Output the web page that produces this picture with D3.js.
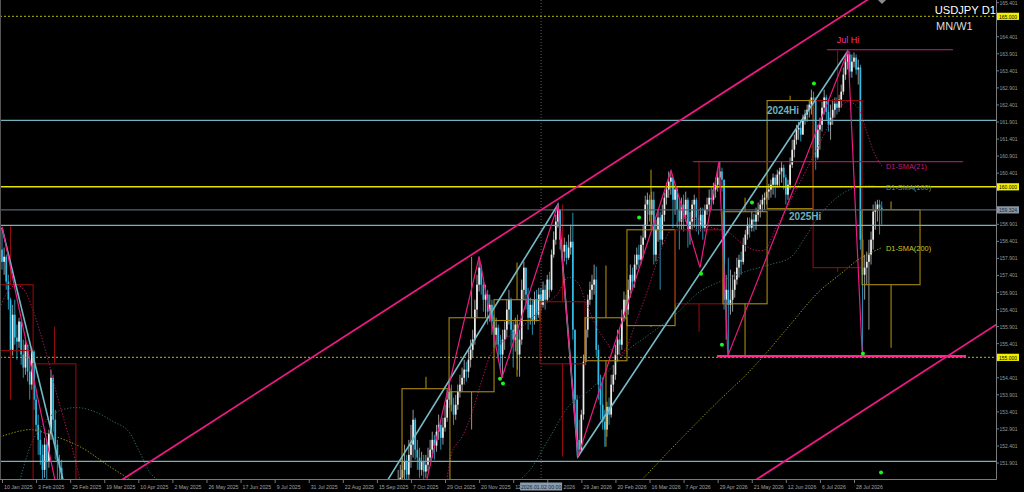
<!DOCTYPE html>
<html><head><meta charset="utf-8"><title>USDJPY D1</title>
<script src="https://cdn.jsdelivr.net/npm/d3@7/dist/d3.min.js"></script>
<style>html,body{margin:0;padding:0;background:#000;overflow:hidden}svg{display:block}</style>
</head><body>
<svg id="chart" width="1024" height="492"></svg>
<script>
// ================= DATA =================
const dateTickIndex = [0,16,32,48,64,80,96,112,128,144,160,176,192,208,224,240,256,272,288,304,320,336,352,368,384,400];
const dateTickLabels = ["10 Jan 2025","3 Feb 2025","25 Feb 2025","19 Mar 2025","10 Apr 2025","2 May 2025","26 May 2025","17 Jun 2025","9 Jul 2025","31 Jul 2025","22 Aug 2025","15 Sep 2025","7 Oct 2025","29 Oct 2025","20 Nov 2025","12 Dec 2025","6 Jan 2026","29 Jan 2026","20 Feb 2026","16 Mar 2026","7 Apr 2026","29 Apr 2026","21 May 2026","12 Jun 2026","6 Jul 2026","28 Jul 2026"];
const priceTickValues = [151.901,152.401,152.901,153.401,153.901,154.401,154.901,155.401,155.901,156.401,156.901,157.401,157.901,158.401,158.901,159.401,159.901,160.401,160.901,161.401,161.901,162.401,162.901,163.401,163.901,164.401,164.901,165.401];
const markedPrices = [165.000,160.000,159.324,155.000];
const markedPriceLabels = ["165.000","160.000","159.324","155.000"];

// daily candles, segment 1 (Jan-Feb 2025)
const seg1StartIndex = 0;
const seg1FirstOpen = 158.16;
const seg1Close = [157.80,157.95,157.22,156.69,155.22,156.25,155.58,155.46,156.05,155.08,
 154.70,155.37,154.58,154.20,155.17,153.76,153.02,152.58,152.14,151.70,
 152.44,151.94,152.76,154.40,153.17,152.44,151.94,151.76,151.12,150.68,150.24];
const seg1High = [158.80,158.22,158.01,157.42,156.75,156.54,156.69,155.96,156.16,156.05,
 155.52,155.58,155.37,154.93,155.28,155.22,154.05,153.32,152.88,152.44,
 152.64,152.58,152.88,154.64,154.49,153.46,152.58,152.14,152.00,151.41,150.97];
const seg1Low = [157.57,157.42,156.98,156.40,155.05,155.05,155.37,154.93,155.28,154.78,
 154.40,154.49,154.29,153.76,154.05,153.46,152.82,152.14,151.85,151.41,
 151.47,151.26,151.76,152.58,152.82,152.00,151.41,151.26,150.82,150.38,149.95];

// daily candles, segment 2 (Oct 2025 - Jul 2026)
const seg2StartIndex = 186;
const seg2FirstOpen = 151.12;
const seg2Close = [
 151.26,151.47,151.70,151.94,151.56,152.14,152.44,153.17,152.29,152.06,
 151.70,151.94,151.65,151.85,152.06,152.29,152.58,152.41,152.82,153.02,
 152.64,152.94,153.23,153.76,153.99,153.61,153.32,153.61,153.99,154.20,
 154.40,154.64,154.58,154.93,155.22,155.52,156.40,157.13,157.63,157.13,
 156.69,156.84,156.34,156.54,156.05,155.66,155.87,155.37,155.08,155.52,
 155.81,156.40,156.69,155.81,155.52,155.96,155.08,155.52,156.98,157.63,
 156.84,156.16,156.54,156.10,156.69,156.25,156.84,156.54,156.98,156.69,
 157.28,156.98,158.01,158.45,158.98,159.33,158.45,158.10,158.30,157.92,
 158.22,158.39,155.81,153.76,152.58,152.29,153.32,154.87,155.81,156.69,
 156.98,157.13,157.28,155.22,154.20,153.61,153.11,152.88,153.55,153.32,
 154.20,154.49,155.08,155.52,155.37,156.16,156.69,156.40,156.98,157.42,
 157.22,157.72,158.01,157.86,158.30,158.51,159.48,159.62,159.18,159.62,
 158.01,158.74,159.10,158.45,159.18,159.68,159.92,160.15,160.27,159.62,
 159.92,159.33,158.98,159.48,159.18,159.62,158.74,158.98,159.48,159.62,
 159.10,158.89,159.18,158.80,159.33,159.48,159.68,159.62,159.92,160.06,
 160.27,160.45,160.21,156.69,156.98,156.54,156.69,156.98,157.28,157.63,
 157.86,157.80,158.30,158.60,158.89,158.80,159.04,158.98,159.18,159.33,
 159.48,159.62,159.68,159.86,159.92,160.06,160.27,160.06,160.36,160.45,
 160.56,160.27,159.77,160.06,160.65,161.09,161.38,161.68,161.73,161.53,
 161.97,162.12,162.26,162.41,162.62,162.56,160.86,161.68,161.82,162.32,
 162.62,162.20,161.82,162.03,162.26,162.44,162.32,162.56,162.79,163.29,
 163.67,163.88,163.38,163.67,163.79,163.44,163.50,158.45,157.42,157.63,
 157.80,158.01,158.45,159.27,159.33,159.48,159.39,159.32];
const seg2High = [
 151.70,151.85,152.14,152.44,152.14,152.58,153.02,153.46,153.23,152.58,
 152.35,152.23,152.14,152.14,152.35,152.58,152.82,152.73,153.02,153.32,
 153.17,153.23,153.61,154.05,154.29,154.20,153.82,153.90,154.20,154.49,
 154.70,154.93,154.87,155.22,155.52,155.81,156.69,157.42,157.95,157.72,
 157.34,157.13,156.98,156.84,156.69,156.25,156.16,155.96,155.66,155.81,
 156.05,156.69,156.98,156.75,156.05,156.16,156.25,155.81,157.28,157.81,
 157.63,157.04,156.75,156.69,156.93,156.98,157.04,157.04,157.22,157.13,
 157.42,157.51,158.16,158.69,159.18,159.48,159.18,158.69,158.51,158.39,
 158.60,158.89,159.24,155.81,153.90,153.17,153.46,155.08,156.16,156.84,
 157.22,157.42,157.72,157.66,155.37,154.49,154.40,153.46,153.70,153.82,
 154.49,154.78,155.37,155.81,155.81,156.40,156.93,156.84,157.28,157.72,
 157.63,158.01,158.22,158.30,158.57,158.89,159.74,159.83,159.77,159.86,
 159.86,159.04,159.33,159.27,159.48,159.83,160.12,160.45,160.47,160.21,
 160.06,159.98,159.68,159.68,159.77,159.86,159.68,159.27,159.62,159.77,
 159.68,159.33,159.39,159.39,159.48,159.68,159.92,159.98,160.12,160.27,
 160.50,160.74,160.56,160.21,157.42,157.92,157.57,157.42,157.51,157.92,
 158.01,158.10,158.51,158.74,159.10,159.10,159.27,159.21,159.39,159.54,
 159.62,159.77,159.83,159.98,160.09,160.21,160.39,160.36,160.50,160.56,
 160.74,160.65,160.36,160.21,160.86,161.38,161.53,161.82,161.91,161.91,
 162.12,162.26,162.41,162.56,162.85,162.79,162.62,161.82,162.03,162.50,
 162.85,162.70,162.56,162.41,162.56,162.62,162.62,162.70,163.00,163.50,
 163.85,164.00,163.97,163.88,163.94,163.88,163.73,163.58,158.60,158.01,
 158.10,158.45,158.69,159.48,159.57,159.62,159.62,159.57];
const seg2Low = [
 150.82,150.97,151.12,151.35,151.26,151.41,151.76,152.06,152.00,151.70,
 151.47,151.53,151.35,151.47,151.65,151.94,152.06,152.00,152.23,152.58,
 152.29,152.44,152.82,153.11,153.52,153.41,153.02,153.17,153.46,153.82,
 153.99,154.20,154.29,154.40,154.70,154.99,155.37,156.16,156.93,156.84,
 156.34,156.16,155.96,156.05,155.66,155.28,155.37,154.93,154.58,154.40,
 155.22,155.58,155.96,155.28,154.70,155.17,154.64,154.43,155.37,156.69,
 156.40,155.81,155.96,155.66,155.96,156.05,156.16,156.34,156.46,156.40,
 156.63,156.75,156.93,157.92,158.30,158.80,158.16,157.92,157.81,157.72,
 157.86,158.01,155.52,153.17,152.09,152.12,152.23,153.17,154.78,155.58,
 156.54,156.69,156.84,155.02,153.76,153.17,152.88,152.38,152.67,153.02,
 153.23,153.99,154.34,154.87,155.08,155.22,156.05,156.10,156.25,156.75,
 156.98,157.04,157.57,157.63,157.72,157.92,158.45,158.89,158.98,158.89,
 157.72,157.81,158.39,156.98,158.30,158.98,159.48,159.68,159.77,158.80,
 159.18,158.80,158.16,158.74,158.69,158.98,158.22,158.30,158.74,158.80,
 158.69,158.60,158.69,158.45,158.69,159.18,159.27,159.33,159.48,159.68,
 159.86,159.98,159.86,156.40,155.52,155.08,156.25,156.34,156.75,157.13,
 157.34,157.42,157.72,158.10,158.45,158.51,158.69,158.69,158.74,158.98,
 159.10,159.27,159.33,159.48,159.62,159.68,159.77,159.68,159.98,160.03,
 160.12,159.92,159.48,159.62,159.92,160.56,160.86,161.24,161.38,161.33,
 161.53,161.82,161.91,162.03,162.12,161.97,160.50,160.80,161.09,161.62,
 162.12,161.97,161.62,161.38,161.82,162.03,162.12,162.20,162.32,162.70,
 163.14,163.44,163.20,163.20,163.50,163.29,163.00,158.16,155.17,156.69,
 157.13,155.81,157.72,158.16,158.74,158.98,158.60,158.89];

// higher-timeframe (monthly) candles drawn as outlined boxes
const htfStart = [-6.6,14.6,187.8,209.9,231.0,252.6,273.7,293.4,316.0,338.5,359.2,380.8,403.8];
const htfEnd   = [14.6,34.7,210.3,231.0,252.6,273.7,293.4,316.0,338.5,359.2,380.8,403.8,431.0];
const htfOpen  = [157.13,154.81,147.90,153.99,156.08,156.63,154.90,155.93,158.74,156.57,159.36,162.53,157.13];
const htfHigh  = [158.87,155.90,154.43,157.95,157.78,159.48,157.69,160.50,160.74,159.68,162.67,163.99,159.57];
const htfLow   = [153.76,149.30,146.60,152.88,154.43,152.09,152.38,155.90,155.75,155.02,159.30,157.51,155.28];
const htfClose = [155.20,150.60,154.08,156.16,156.69,154.81,156.16,158.74,156.57,159.27,162.53,157.63,159.33];

// moving averages
const sma21AIdx = [-0.9,2.8,6.6,10.3,14.1,17.8,21.6,25.4,29.1,32.9,36.6];
const sma21AVal = [156.46,156.93,157.13,156.98,156.46,155.75,154.93,153.99,153.17,152.35,151.41];
const sma21BIdx = [208.9,211.7,216.0,220.7,225.4,230.0,236.2,242.3,247.9,254.9,260.6,265.7,269.9,274.6,279.3,284.0,288.7,292.5,297.2,301.9,306.6,311.3,316.0,322.1,327.7,333.3,340.4,346.5,352.6,358.2,362.9,370.9,378.4,386.4,392.5,397.2,401.9,405.6,409.9,413.6];
const sma21BVal = [151.41,152.29,152.67,153.38,154.35,155.14,155.52,155.81,156.10,156.54,156.84,157.34,157.22,156.54,155.87,155.43,155.05,155.22,155.96,156.75,157.63,158.45,158.89,159.10,158.98,158.80,158.69,158.39,158.16,158.16,158.74,159.68,160.59,161.59,162.26,162.50,162.32,161.68,160.94,160.56];
const sma100AIdx = [8.5,14.6,22.5,28.6,36.6,44.6,52.1,58.7,64.8,69.5,72.8];
const sma100AVal = [151.41,152.58,153.26,153.47,153.52,153.38,153.12,152.88,152.20,151.62,151.41];
const sma100BIdx = [243.2,247.9,257.3,266.7,276.1,285.4,293.9,301.9,316.0,327.7,337.1,348.8,360.6,370.0,377.0,384.0,392.5,400.5,409.9];
const sma100BVal = [151.41,151.70,152.67,153.61,154.05,154.64,155.22,155.58,156.25,156.93,157.22,157.51,157.72,157.92,158.51,159.18,159.71,159.98,160.03];
const sma200AIdx = [-0.9,13.1,22.5,36.6,50.7,58.7,61.0];
const sma200AVal = [152.67,152.88,152.73,152.38,151.79,151.47,151.35];
const sma200BIdx = [299.5,318.3,337.1,347.9,357.3,370.9,383.1,394.4,401.9,413.1];
const sma200BVal = [151.35,152.58,153.76,154.40,155.02,156.02,156.90,157.48,157.86,158.22];

// zigzag / trend lines (index, price)
const zigA_Idx = [0,25.8];
const zigA_Val = [158.83,151.12];
const zigB_Idx = [198.1,224.0,234.7,261.0,270.4,314.1,327.7,336.6,340.8,397.2,403.8];
const zigB_Val = [151.06,157.95,154.40,159.48,152.09,160.48,157.63,160.74,155.05,163.99,155.17];
const cyanA_Idx = [0,30.0];
const cyanA_Val = [158.80,151.06];
const cyanB_Idx = [177.7,261.0,270.4,397.2];
const cyanB_Val = [151.06,159.48,152.09,163.99];
const chanUpIdx = [50.6,412.2];
const chanUpVal = [151.18,165.72];
const chanLoIdx = [354.0,468.5];
const chanLoVal = [151.41,156.03];

// signal dots
const dotIdx = [233.8,235.2,299.1,328.2,338.0,352.1,381.2,404.2,412.7];
const dotVal = [154.37,154.23,159.10,157.45,155.37,159.54,163.03,155.11,151.62];

// horizontal levels
const fullLevels = [165.000,161.95,160.000,159.324,158.87,155.000,151.95];
const julHi = 164.02, julHiFrom = 387.3, julHiTo = 446.5;
const prevHi = 160.74, prevHiFrom = 324.4, prevHiTo = 451.2;
const supportLvl = 155.03, supportFrom = 335.7, supportTo = 452.6;
const crossIdx = 253.1, crossLabel = "2026.01.02 00:00";

// ================= CHART =================
const PR = 996, PB = 479;
const x = d3.scaleLinear().domain([0,400]).range([2,854]);
const y = d3.scaleLinear().domain([151.901,165.401]).range([463,2.65]);
const svg = d3.select("#chart");
svg.append("rect").attr("width",1024).attr("height",492).attr("fill","#000");
svg.append("defs").append("clipPath").attr("id","plot").append("rect").attr("x",0).attr("y",0).attr("width",PR).attr("height",PB);
const g = svg.append("g").attr("clip-path","url(#plot)");

const zip = (a,b)=>a.map((v,k)=>[v,b[k]]);
const line = d3.line().x(d=>x(d[0])).y(d=>y(d[1]));
const smooth = d3.line().x(d=>x(d[0])).y(d=>y(d[1])).curve(d3.curveCatmullRom);

// crosshair vertical
g.append("line").attr("x1",x(crossIdx)).attr("x2",x(crossIdx)).attr("y1",0).attr("y2",PB)
 .attr("stroke","#5a5a5a").attr("stroke-dasharray","1,2");

// candles
const bars = [];
function addSeg(start, firstOpen, C, Hh, L){
  let o = firstOpen;
  C.forEach((c,k)=>{ bars.push({i:start+k,o:o,c:c,h:Math.max(Hh[k],o,c),l:Math.min(L[k],o,c)}); o=c; });
}
addSeg(seg1StartIndex, seg1FirstOpen, seg1Close, seg1High, seg1Low);
addSeg(seg2StartIndex, seg2FirstOpen, seg2Close, seg2High, seg2Low);
const cg = g.append("g");
cg.selectAll("line.w").data(bars).join("line").attr("class","w")
 .attr("x1",d=>x(d.i)).attr("x2",d=>x(d.i)).attr("y1",d=>y(d.h)).attr("y2",d=>y(d.l))
 .attr("stroke",d=>d.c>=d.o?"#a8a8a8":"#2a9ec4").attr("stroke-width",0.9);
cg.selectAll("rect.b").data(bars).join("rect").attr("class","b")
 .attr("x",d=>x(d.i)-0.85).attr("width",1.7)
 .attr("y",d=>y(Math.max(d.o,d.c))).attr("height",d=>Math.max(1,Math.abs(y(d.o)-y(d.c))))
 .attr("fill",d=>d.c>=d.o?"#ececec":"#31bde6");

// moving averages
const smaStyle = [
  [sma21AIdx,sma21AVal,"#b3175f"],[sma21BIdx,sma21BVal,"#b3175f"],
  [sma100AIdx,sma100AVal,"#2f6468"],[sma100BIdx,sma100BVal,"#2f6468"],
  [sma200AIdx,sma200AVal,"#9c9c1c"],[sma200BIdx,sma200BVal,"#9c9c1c"]];
smaStyle.forEach(s=>{
  g.append("path").attr("d",smooth(zip(s[0],s[1]))).attr("fill","none")
   .attr("stroke",s[2]).attr("stroke-width",1).attr("stroke-dasharray","1.3,1.7");
});

// HTF boxes
const htf = htfStart.map((s,k)=>({s:s,e:htfEnd[k],o:htfOpen[k],h:htfHigh[k],l:htfLow[k],c:htfClose[k]}));
const hg = g.append("g");
htf.forEach(d=>{
  const col = d.c>=d.o ? "#a8890f" : "#8f0b0b";
  const top = Math.max(d.o,d.c), bot = Math.min(d.o,d.c), cx = x((d.s+d.e)/2);
  hg.append("rect").attr("x",x(d.s)).attr("y",y(top)).attr("width",x(d.e)-x(d.s)).attr("height",y(bot)-y(top))
    .attr("fill","none").attr("stroke",col).attr("stroke-width",1.1);
  hg.append("line").attr("x1",cx).attr("x2",cx).attr("y1",y(d.h)).attr("y2",y(top)).attr("stroke",col).attr("stroke-width",1.1);
  hg.append("line").attr("x1",cx).attr("x2",cx).attr("y1",y(bot)).attr("y2",y(d.l)).attr("stroke",col).attr("stroke-width",1.1);
});

// full-width levels
const levelStyle = {
  "165":{c:"#b8b800",w:1,d:"2,2"}, "161.95":{c:"#72b2bd",w:1.3,d:null}, "160":{c:"#e4e400",w:1.5,d:null},
  "159.324":{c:"#56636b",w:1.3,d:null}, "158.87":{c:"#72b2bd",w:1.3,d:null}, "155":{c:"#b8b800",w:1,d:"2,2"},
  "151.95":{c:"#72b2bd",w:1.3,d:null}};
fullLevels.forEach(p=>{
  const st = levelStyle[String(p)];
  const l = g.append("line").attr("x1",0).attr("x2",PR).attr("y1",y(p)).attr("y2",y(p))
    .attr("stroke",st.c).attr("stroke-width",st.w);
  if(st.d) l.attr("stroke-dasharray",st.d);
});
// partial levels
g.append("line").attr("x1",x(prevHiFrom)).attr("x2",x(prevHiTo)).attr("y1",y(prevHi)).attr("y2",y(prevHi)).attr("stroke","#9e1a5c").attr("stroke-width",1.1);
g.append("line").attr("x1",x(julHiFrom)).attr("x2",x(julHiTo)).attr("y1",y(julHi)).attr("y2",y(julHi)).attr("stroke","#c8207a").attr("stroke-width",1.1);
g.append("line").attr("x1",x(supportFrom)).attr("x2",x(supportTo)).attr("y1",y(supportLvl)).attr("y2",y(supportLvl)).attr("stroke","#ff2a8a").attr("stroke-width",2.6);

// trend lines
[[cyanA_Idx,cyanA_Val],[cyanB_Idx,cyanB_Val]].forEach(s=>{
  g.append("path").attr("d",line(zip(s[0],s[1]))).attr("fill","none").attr("stroke","#74b9c4").attr("stroke-width",1.6);
});
[[zigA_Idx,zigA_Val],[zigB_Idx,zigB_Val]].forEach(s=>{
  g.append("path").attr("d",line(zip(s[0],s[1]))).attr("fill","none").attr("stroke","#ec1a84").attr("stroke-width",1.2);
});
[[chanUpIdx,chanUpVal],[chanLoIdx,chanLoVal]].forEach(s=>{
  g.append("path").attr("d",line(zip(s[0],s[1]))).attr("fill","none").attr("stroke","#ec1a84").attr("stroke-width",1.8);
});

// dots
g.selectAll("circle.dot").data(zip(dotIdx,dotVal)).join("circle").attr("class","dot")
 .attr("cx",d=>x(d[0])).attr("cy",d=>y(d[1])).attr("r",2).attr("fill","#1cf51c");

// annotations
const ff = "'Liberation Sans', Arial, sans-serif";
function txt(xx,yy,t,size,col,weight,anchor){
  return svg.append("text").attr("x",xx).attr("y",yy).text(t).attr("font-family",ff).attr("font-size",size)
    .attr("fill",col).attr("font-weight",weight||"normal").attr("text-anchor",anchor||"start").attr("dominant-baseline","central");
}
txt(x(397.2),y(164.32),"Jul Hi",9,"#ff2f96","normal","middle");
txt(x(359.1),y(162.24),"2024Hi",10,"#6fb0bc","bold");
txt(x(369.5),y(159.13),"2025Hi",10,"#6fb0bc","bold");
txt(x(415.0),y(160.60),"D1-SMA(21)",7.4,"#c41d74");
txt(x(415.0),y(159.98),"D1-SMA(100)",7.4,"#5e8c91");
txt(x(415.0),y(158.19),"D1-SMA(200)",7.4,"#c8c820");
txt(PR,10,"USDJPY D1",11.2,"#ffffff","normal","end");
txt(936,26,"MN/W1",11,"#dcdcdc");
// chart shift marker
svg.append("path").attr("d","M878,0 L886,0 L882,4 Z").attr("fill","#8a8a8a");

// axes frame
svg.append("line").attr("x1",PR+0.5).attr("x2",PR+0.5).attr("y1",0).attr("y2",PB+0.5).attr("stroke","#7a7a7a");
svg.append("line").attr("x1",0).attr("x2",PR+0.5).attr("y1",PB+0.5).attr("y2",PB+0.5).attr("stroke","#7a7a7a");
svg.append("line").attr("x1",0.5).attr("x2",0.5).attr("y1",0).attr("y2",PB).attr("stroke","#555");

// price axis (tick labels hidden where a marked-price box covers them)
priceTickValues.forEach(p=>{
  svg.append("line").attr("x1",PR).attr("x2",PR+3).attr("y1",y(p)).attr("y2",y(p)).attr("stroke","#7a7a7a");
  const covered = markedPrices.some(m=>Math.abs(y(m)-y(p))<7.5);
  if(!covered) txt(PR+3.5,y(p),p.toFixed(3),5,"#9a9a9a");
});
markedPrices.forEach((p,k)=>{
  const isBid = k===2;
  svg.append("rect").attr("x",PR+1).attr("y",y(p)-3.6).attr("width",22).attr("height",7.2)
    .attr("fill",isBid?"#8797a4":"#f0f000");
  txt(PR+12,y(p)+0.2,markedPriceLabels[k],5,isBid?"#1e2a33":"#000","normal","middle");
});

// time axis (the crosshair label box covers part of two labels, as in the terminal)
const boxL = x(crossIdx)-21, boxR = x(crossIdx)+21;
dateTickIndex.forEach((ti,k)=>{
  svg.append("line").attr("x1",x(ti)+0.5).attr("x2",x(ti)+0.5).attr("y1",PB).attr("y2",PB+4).attr("stroke","#7a7a7a");
  let t = dateTickLabels[k], tx = x(ti)+2;
  const parts = t.split(" ");
  if(tx < boxL && tx + 28 > boxL){ t = parts[0]; }
  else if(tx >= boxL && tx < boxR){ t = parts[parts.length-1]; tx = boxR + 1.5; }
  txt(tx,487,t,5.2,"#a0a0a0");
});
svg.append("rect").attr("x",boxL).attr("y",482.5).attr("width",42).attr("height",8).attr("fill","#8a9db0");
txt(x(crossIdx),487,crossLabel,5.2,"#1c2836","normal","middle");
</script>
</body></html>
